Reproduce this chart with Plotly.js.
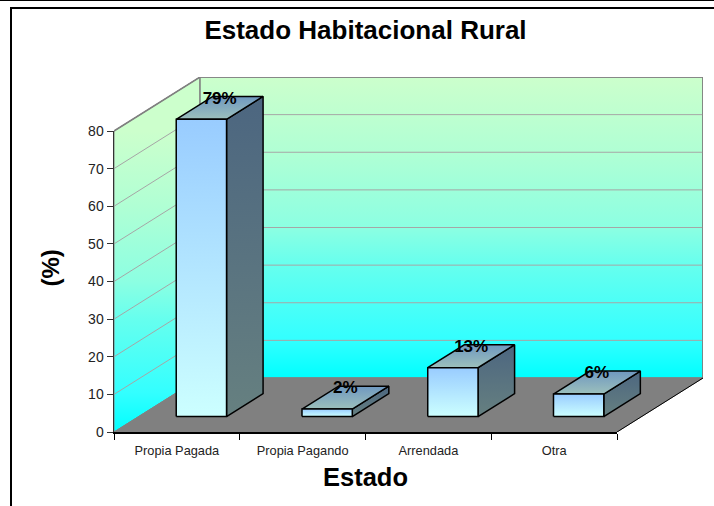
<!DOCTYPE html>
<html>
<head>
<meta charset="utf-8">
<script src="https://cdn.plot.ly/plotly-3.0.1.min.js"></script>
<style>html,body{margin:0;padding:0;background:#fff}#c{width:714px;height:506px}</style>
</head>
<body>
<div id="c"></div>
<script>
const categories = ["Propia Pagada", "Propia Pagando", "Arrendada", "Otra"];
const values = [79, 2, 13, 6];
const valueLabels = ["79%", "2%", "13%", "6%"];
const yTicks = [0, 10, 20, 30, 40, 50, 60, 70, 80];

// oblique projection of the depth axis, expressed in axis units
const frontW = 503, frontH = 301, shiftX = 86, shiftY = 54;
const xUnit = frontW / 4, yUnit = frontH / 80;
const depthX = shiftX / xUnit, depthY = shiftY / yUnit;
const barHalf = 0.2, d0 = 0.285, d1 = 0.71;
const P = (x, d, v) => [x + d * depthX, v + d * depthY];

const base = {hoverinfo: "skip", showlegend: false, xaxis: "x", yaxis: "y"};
function poly(points, gradient, line, start, stop) {
  const pts = points.concat([points[0]]);
  const fg = {type: "vertical", colorscale: gradient};
  if (start !== undefined) { fg.start = start; fg.stop = stop; }
  return Object.assign({
    type: "scatter", mode: "lines", x: pts.map(p => p[0]), y: pts.map(p => p[1]),
    fill: "toself", fillgradient: fg, line: line
  }, base);
}
function solid(points, color, line) {
  const pts = points.concat([points[0]]);
  return Object.assign({
    type: "scatter", mode: "lines", x: pts.map(p => p[0]), y: pts.map(p => p[1]),
    fill: "toself", fillcolor: color, line: line
  }, base);
}
const wallGrad = [[0, "#00FFFF"], [0.13, "#33FFFF"], [0.375, "#66FFEE"], [0.5, "#8CFFE2"], [0.75, "#B0FFD4"], [1, "#CCFFCC"]];
const frontGrad = [[0, "#CCFFFF"], [1, "#99CCFF"]];
const topGrad = [[0, "#9CC0BC"], [1, "#6F98C0"]];
const sideGrad = [[0, "#668080"], [1, "#4C6680"]];
const L = -0.5, R = 3.5, T = 80;
const edge = {width: 1.5, color: "#808080"};
const thin = {width: 1, color: "#808080"};
const bar = {width: 1.5, color: "#000000"};

const traces = [];
traces.push(poly([P(L,0,0), P(L,1,0), P(L,1,T), P(L,0,T)], wallGrad, thin, 0, T));
traces.push(poly([P(L,1,0), P(R,1,0), P(R,1,T), P(L,1,T)], wallGrad, edge));
traces.push(solid([P(L,0,0), P(R,0,0), P(R,1,0), P(L,1,0)], "#808080", thin));

// grid lines on the two walls
const gx = [], gy = [];
yTicks.slice(1).forEach(t => {
  [P(L,0,t), P(L,1,t), P(R,1,t)].forEach(p => { gx.push(p[0]); gy.push(p[1]); });
  gx.push(null); gy.push(null);
});
traces.push(Object.assign({type: "scatter", mode: "lines", x: gx, y: gy,
  line: {width: 1, color: "#A6A6A6"}}, base));
// wall borders drawn again above the grid
const wb = [P(L,0,T), P(L,1,T), P(R,1,T), P(R,1,0)];
traces.push(Object.assign({type: "scatter", mode: "lines", x: wb.map(p=>p[0]), y: wb.map(p=>p[1]),
  line: edge}, base));
// floor right edge
const fr = [P(R,0,0), P(R,1,0)];
traces.push(Object.assign({type: "scatter", mode: "lines", x: fr.map(p=>p[0]), y: fr.map(p=>p[1]),
  line: {width: 1, color: "#000000"}}, base));

values.forEach((v, i) => {
  const a = i - barHalf, b = i + barHalf;
  traces.push(poly([P(b,d0,0), P(b,d1,0), P(b,d1,v), P(b,d0,v)], sideGrad, bar));
  traces.push(poly([P(a,d0,v), P(b,d0,v), P(b,d1,v), P(a,d1,v)], topGrad, bar));
  traces.push(poly([P(a,d0,0), P(b,d0,0), P(b,d0,v), P(a,d0,v)], frontGrad, bar));
});

const labelPts = values.map((v, i) => P(i, (d0 + d1) / 2, v));
traces.push(Object.assign({type: "scatter", mode: "text", x: labelPts.map(p=>p[0]), y: labelPts.map(p=>p[1]),
  text: valueLabels.map(s => "<b>" + s + "</b>"), textposition: "top center",
  textfont: {family: "Liberation Sans, Arial, sans-serif", size: 17, color: "#000"}}, base));

// invisible reference bars: they carry the categories on the visible front axes
traces.push({type: "bar", x: categories, y: values, xaxis: "x2", yaxis: "y2",
  marker: {opacity: 0}, hoverinfo: "skip", showlegend: false});

const mL = 114, mR = 714 - 617 - shiftX, mT = 131 - shiftY, mB = 74;
const W = frontW + shiftX, H = frontH + shiftY;
const px = x => (x - mL) / W, py = y => (mT + H - y) / H;
const frameLine = {color: "#000", width: 2};
const layout = {
  width: 714, height: 506, showlegend: false,
  paper_bgcolor: "#fff", plot_bgcolor: "rgba(0,0,0,0)",
  margin: {l: mL, r: mR, t: mT, b: mB},
  font: {family: "Liberation Sans, Arial, sans-serif", color: "#000"},
  title: {text: "<b>Estado Habitacional Rural</b>", font: {size: 26, color: "#000"},
    xref: "container", x: 365.5 / 714, xanchor: "center", yref: "container", y: 1 - 30 / 506, yanchor: "middle"},
  // hidden scene axes: same scale as the front axes, extended by the depth shift
  xaxis: {domain: [0, 1], range: [L, R + depthX], visible: false, fixedrange: true},
  yaxis: {domain: [0, 1], range: [0, T + depthY], visible: false, fixedrange: true},
  xaxis2: {
    domain: [0, frontW / W], anchor: "y2", type: "category", categoryorder: "array", categoryarray: categories,
    range: [L, R], tickson: "boundaries", ticks: "outside", ticklen: 6, tickcolor: "#000", tickwidth: 1,
    showgrid: false, zeroline: false, showline: true, linecolor: "#000", linewidth: 1.5,
    tickfont: {size: 12.8, color: "#222"}, ticklabelstandoff: 6,
    title: {text: "<b>Estado</b>", font: {size: 25.5, color: "#000"}, standoff: 11}
  },
  yaxis2: {
    domain: [0, frontH / H], anchor: "x2", range: [0, T], tickmode: "array", tickvals: yTicks,
    ticks: "outside", ticklen: 6, tickcolor: "#333", tickwidth: 1, showgrid: false, zeroline: false,
    showline: true, linecolor: "#333", linewidth: 1.5, tickfont: {size: 14, color: "#222"}
  },
  annotations: [{text: "<b>(%)</b>", xref: "paper", yref: "paper", x: px(50), y: py(268.5), xanchor: "center", yanchor: "middle",
    showarrow: false, textangle: -90, font: {size: 24, color: "#000"}}],
  shapes: [
    {type: "line", xref: "paper", yref: "paper", x0: px(0), x1: px(714), y0: py(0.5), y1: py(0.5), line: {color: "#000", width: 1}},
    {type: "line", xref: "paper", yref: "paper", x0: px(11), x1: px(714), y0: py(8), y1: py(8), line: frameLine},
    {type: "line", xref: "paper", yref: "paper", x0: px(11), x1: px(11), y0: py(7), y1: py(506), line: frameLine}
  ]
};
Plotly.newPlot("c", traces, layout, {displayModeBar: false, staticPlot: true});
</script>
</body>
</html>
